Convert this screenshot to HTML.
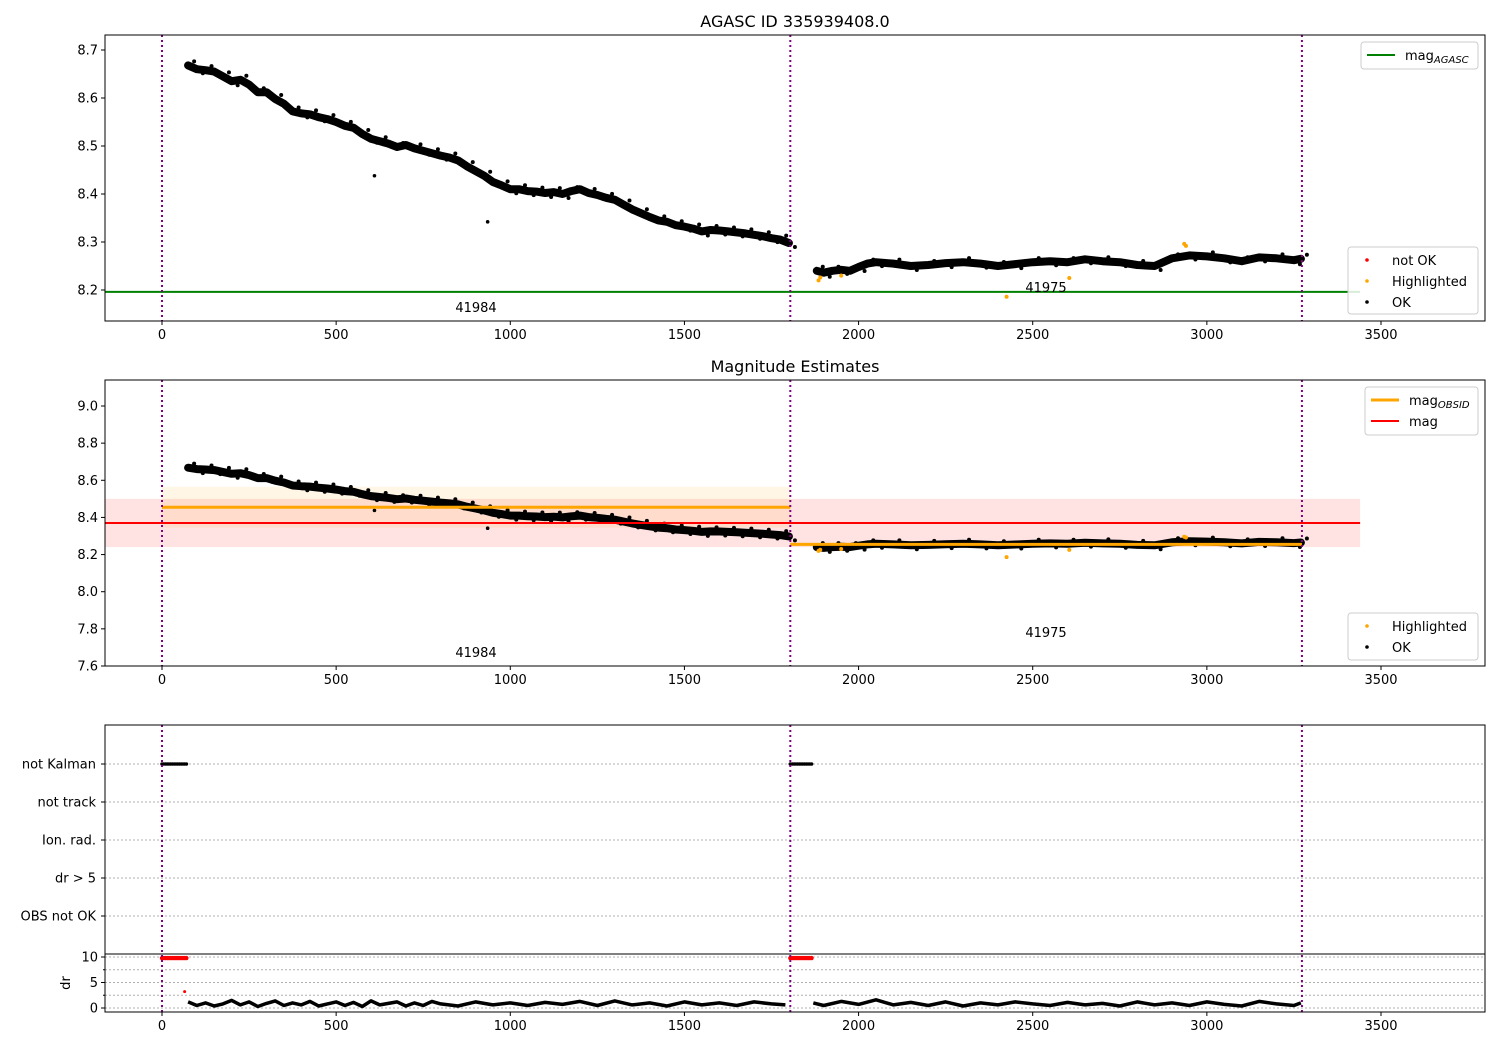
<!DOCTYPE html>
<html><head><meta charset="utf-8">
<style>
html,body{margin:0;padding:0;background:#fff;}
svg{display:block;font-family:"DejaVu Sans","Liberation Sans",sans-serif;}
</style></head>
<body>
<svg id="fig" width="1500" height="1050" viewBox="0 0 1500 1050" xmlns="http://www.w3.org/2000/svg"></svg>
<script>
// ---- data ----
const seg1Times = [75,100,125,150,175,200,225,250,275,300,325,350,375,400,425,450,475,500,525,550,575,600,625,650,675,700,725,750,775,800,825,850,875,900,925,950,975,1000,1025,1050,1075,1100,1125,1150,1175,1200,1225,1250,1275,1300,1325,1350,1375,1400,1425,1450,1475,1500,1525,1550,1575,1600,1625,1650,1675,1700,1725,1750,1775,1800];
const seg1Mag = [8.668,8.660,8.658,8.655,8.645,8.635,8.638,8.628,8.612,8.612,8.598,8.588,8.572,8.568,8.566,8.560,8.556,8.550,8.542,8.538,8.525,8.515,8.510,8.505,8.498,8.502,8.495,8.490,8.485,8.480,8.476,8.470,8.458,8.448,8.438,8.425,8.418,8.410,8.410,8.406,8.405,8.402,8.404,8.400,8.406,8.410,8.402,8.398,8.392,8.388,8.378,8.368,8.360,8.352,8.345,8.342,8.335,8.332,8.328,8.322,8.325,8.324,8.322,8.320,8.318,8.315,8.312,8.308,8.305,8.298];
const seg2Times = [1880,1900,1925,1950,1975,2000,2025,2050,2100,2150,2200,2250,2300,2350,2400,2450,2500,2550,2600,2650,2700,2750,2800,2850,2900,2950,3000,3050,3100,3150,3200,3250,3270];
const seg2Mag = [8.240,8.236,8.240,8.242,8.240,8.248,8.255,8.258,8.255,8.250,8.252,8.256,8.258,8.255,8.250,8.254,8.258,8.260,8.258,8.264,8.260,8.258,8.252,8.250,8.266,8.272,8.270,8.266,8.260,8.268,8.266,8.262,8.265];
const outlierTimes = [610,935];
const outlierMag = [8.438,8.342];
const hlTimes = [1885,1890,1950,2425,2605,2935,2940];
const hlMag = [8.220,8.226,8.230,8.186,8.225,8.296,8.292];
const obsids = ["41984","41975"];
const obsStart = [0,1804];
const obsEnd = [1804,3273];
const obsMean = [8.455,8.255];
const obsBandLo = [8.345,8.245];
const obsBandHi = [8.565,8.265];
const magAgasc = 8.196;
const magMean = 8.37, magLo = 8.24, magHi = 8.50;
const kalmanTimes = [0,5,10,15,20,25,30,35,40,45,50,55,60,65,70,1804,1810,1815,1820,1825,1830,1835,1840,1845,1850,1855,1860,1865];
const drTimes = [75,100,125,150,175,200,225,250,275,300,325,350,375,400,425,450,475,500,525,550,575,600,625,650,675,700,725,750,775,800,850,900,950,1000,1050,1100,1150,1200,1250,1300,1350,1400,1450,1500,1550,1600,1650,1700,1750,1790,1870,1900,1950,2000,2050,2100,2150,2200,2250,2300,2350,2400,2450,2500,2550,2600,2650,2700,2750,2800,2850,2900,2950,3000,3050,3100,3150,3200,3250,3270];
const drVals = [1.2,0.5,1.0,0.4,0.8,1.5,0.6,1.2,0.3,0.9,1.4,0.5,1.0,0.6,1.3,0.4,0.8,1.2,0.5,1.1,0.3,1.4,0.6,0.9,1.2,0.4,1.0,0.5,1.3,0.8,0.4,1.2,0.6,1.0,0.5,1.1,0.7,1.3,0.5,1.4,0.6,1.0,0.4,1.2,0.6,1.0,0.5,1.2,0.8,0.6,1.0,0.5,1.3,0.7,1.6,0.6,1.1,0.5,1.2,0.4,1.0,0.6,1.2,0.8,0.5,1.1,0.6,0.9,0.4,1.2,0.6,1.0,0.5,1.2,0.7,0.4,1.3,0.8,0.5,1.0];
const flagLabels = ["not Kalman","not track","Ion. rad.","dr > 5","OBS not OK"];
const xTicks = [0,500,1000,1500,2000,2500,3000,3500];
const y1Ticks = [8.2,8.3,8.4,8.5,8.6,8.7];
const y2Ticks = [7.6,7.8,8.0,8.2,8.4,8.6,8.8,9.0];
const drTicks = [0,5,10];

// ---- helpers ----
const NS="http://www.w3.org/2000/svg";
const svg=document.getElementById('fig');
function mk(tag,attrs,parent,text){const e=document.createElementNS(NS,tag);for(const k in attrs)e.setAttribute(k,attrs[k]);if(text!==undefined)e.textContent=text;(parent||svg).appendChild(e);return e;}
const L=105,R=1485;
const sx=t=>162+t*(1381-162)/3500;
const y1=m=>50+(8.7-m)*480;
const y2=m=>406+(9.0-m)*185.71;
const yDr=v=>1008-v*5.1;

function frame(top,bottom,name){
  const r=mk('rect',{x:L,y:top,width:R-L,height:bottom-top,fill:'none',stroke:'#000','stroke-width':1});
  
  
}
function xAxis(bottom,name){
  const g=mk('g',{});
  
  
  xTicks.forEach(t=>{mk('line',{x1:sx(t),x2:sx(t),y1:bottom,y2:bottom+4,stroke:'#000'},g);
    mk('text',{x:sx(t),y:bottom+18,'font-size':13,'text-anchor':'middle'},g,String(t));});
}
function yAxis(ticks,fy,name,fmt){
  const g=mk('g',{});
  
  
  ticks.forEach(t=>{mk('line',{x1:L-4,x2:L,y1:fy(t),y2:fy(t),stroke:'#000'},g);
    mk('text',{x:L-7,y:fy(t)+4.5,'font-size':13,'text-anchor':'end'},g,fmt(t));});
}
function vlines(top,bottom){
  [0,1804,3273].forEach(t=>{const l=mk('line',{x1:sx(t),x2:sx(t),y1:top,y2:bottom,stroke:'#800080','stroke-width':2,'stroke-dasharray':'2,3'});
    
    });
}
function series(fy,name,clip){
  const g=mk('g',{'clip-path':clip});
  
  
  [[seg1Times,seg1Mag],[seg2Times,seg2Mag]].forEach(([ts,ms])=>{
    const pts=ts.map((t,i)=>sx(t).toFixed(1)+','+fy(ms[i]).toFixed(1)).join(' ');
    mk('polyline',{points:pts,fill:'none',stroke:'#000','stroke-width':8,'stroke-linejoin':'round','stroke-linecap':'round'},g);
    ts.forEach((t,i)=>mk('circle',{cx:sx(t)+6,cy:fy(ms[i])+((i%2)?4:-4),r:2,fill:'#000'},g));
  });
  outlierTimes.forEach((t,i)=>mk('circle',{cx:sx(t),cy:fy(outlierMag[i]),r:1.8,fill:'#000'},g));
  hlTimes.forEach((t,i)=>mk('circle',{cx:sx(t),cy:fy(hlMag[i]),r:2,fill:'orange'},g));
}
function legend(x,y,w,h,entries,name){
  const g=mk('g',{});
  
  
  mk('rect',{x:x,y:y,width:w,height:h,rx:3,fill:'#fff','fill-opacity':0.85,stroke:'#ccc'},g);
  entries.forEach((e,i)=>{const cy=y+13+i*21;
    if(e.type==='line')mk('line',{x1:x+6,x2:x+34,y1:cy,y2:cy,stroke:e.color,'stroke-width':e.w||2},g);
    else mk('circle',{cx:x+19,cy:cy,r:1.8,fill:e.color},g);
    const tx=mk('text',{x:x+44,y:cy+5,'font-size':13},g,e.label);
    if(e.sub){mk('tspan',{'font-size':10,'font-style':'italic',dy:3},tx,e.sub);}
  });
}
mk('defs',{}).innerHTML='<clipPath id="c1"><rect x="105" y="35" width="1380" height="286"/></clipPath><clipPath id="c2"><rect x="105" y="380" width="1380" height="286"/></clipPath><clipPath id="c3"><rect x="105" y="954" width="1380" height="58"/></clipPath>';

// ---- panel 1 ----
mk('text',{x:795,y:27,'font-size':16,'text-anchor':'middle',},svg,'AGASC ID 335939408.0');
const ag=mk('line',{x1:L,x2:sx(3440),y1:y1(magAgasc),y2:y1(magAgasc),stroke:'green','stroke-width':2});


series(y1,'mag-points-top','url(#c1)');
vlines(35,321);
mk('text',{x:476,y:312,'font-size':13,'text-anchor':'middle',},svg,obsids[0]);
mk('text',{x:1046,y:292,'font-size':13,'text-anchor':'middle',},svg,obsids[1]);
frame(35,321,'top-axes');
xAxis(321,'x-axis-top');
yAxis(y1Ticks,y1,'y-axis-top',t=>t.toFixed(1));
legend(1361,42,117,27,[{type:'line',color:'green',label:'mag',sub:'AGASC'}],'legend-agasc');
legend(1348,247,130,67,[{type:'dot',color:'red',label:'not OK'},{type:'dot',color:'orange',label:'Highlighted'},{type:'dot',color:'#000',label:'OK'}],'legend-points-top');

// ---- panel 2 ----
mk('text',{x:795,y:372,'font-size':16,'text-anchor':'middle',},svg,'Magnitude Estimates');
const rb=mk('rect',{x:L,y:y2(magHi),width:sx(3440)-L,height:y2(magLo)-y2(magHi),fill:'red','fill-opacity':0.11});


obsStart.forEach((s,i)=>{const b=mk('rect',{x:sx(s),y:y2(obsBandHi[i]),width:sx(obsEnd[i])-sx(s),height:y2(obsBandLo[i])-y2(obsBandHi[i]),fill:'orange','fill-opacity':0.1});
  
  });
series(y2,'mag-points-mid','url(#c2)');
const rl=mk('line',{x1:L,x2:sx(3440),y1:y2(magMean),y2:y2(magMean),stroke:'red','stroke-width':2});


obsStart.forEach((s,i)=>{const l=mk('line',{x1:sx(s),x2:sx(obsEnd[i]),y1:y2(obsMean[i]),y2:y2(obsMean[i]),stroke:'orange','stroke-width':3});
  
  });
vlines(380,666);
mk('text',{x:476,y:657,'font-size':13,'text-anchor':'middle',},svg,obsids[0]);
mk('text',{x:1046,y:637,'font-size':13,'text-anchor':'middle',},svg,obsids[1]);
frame(380,666,'mid-axes');
xAxis(666,'x-axis-mid');
yAxis(y2Ticks,y2,'y-axis-mid',t=>t.toFixed(1));
legend(1365,387,113,48,[{type:'line',color:'orange',w:3,label:'mag',sub:'OBSID'},{type:'line',color:'red',label:'mag'}],'legend-mag');
legend(1348,613,130,47,[{type:'dot',color:'orange',label:'Highlighted'},{type:'dot',color:'#000',label:'OK'}],'legend-points-mid');

// ---- panel 3: flags ----
const fy=i=>764+i*38;
const fg=mk('g',{});


flagLabels.forEach((lab,i)=>{mk('line',{x1:L,x2:R,y1:fy(i),y2:fy(i),stroke:'#b0b0b0','stroke-dasharray':'2,2'},fg);
  mk('line',{x1:L-4,x2:L,y1:fy(i),y2:fy(i),stroke:'#000'},fg);
  mk('text',{x:L-9,y:fy(i)+4.5,'font-size':13,'text-anchor':'end'},fg,lab);});
const kg=mk('g',{});


kalmanTimes.forEach(t=>mk('circle',{cx:sx(t),cy:fy(0),r:1.8,fill:'#000'},kg));
// dr panel
const dg=mk('g',{});


[0,2.5,5,7.5,10].forEach(v=>mk('line',{x1:L,x2:R,y1:yDr(v),y2:yDr(v),stroke:'#b0b0b0','stroke-dasharray':'2,2'},dg));
[2.5,7.5].forEach(v=>mk('line',{x1:L-2,x2:L,y1:yDr(v),y2:yDr(v),stroke:'#000'},dg));
const drg=mk('g',{'clip-path':'url(#c3)'});


kalmanTimes.forEach(t=>mk('circle',{cx:sx(t),cy:yDr(9.8),r:2.2,fill:'red'},drg));
mk('circle',{cx:sx(65),cy:yDr(3.2),r:1.5,fill:'red'},drg);
[[0,49],[50,drTimes.length-1]].forEach(([a,b])=>{
  const pts=drTimes.slice(a,b+1).map((t,i)=>sx(t).toFixed(1)+','+yDr(drVals[a+i]).toFixed(1)).join(' ');
  mk('polyline',{points:pts,fill:'none',stroke:'#000','stroke-width':3.5,'stroke-linejoin':'round'},drg);});
vlines(725,1012);
frame(725,954,'flags-axes');
frame(954,1012,'dr-axes');
xAxis(1012,'x-axis-bottom');
yAxis(drTicks,yDr,'y-axis-dr',t=>String(t));
mk('text',{x:70,y:983,'font-size':13,'text-anchor':'middle',transform:'rotate(-90 70 983)',},svg,'dr');
</script>
</body></html>
